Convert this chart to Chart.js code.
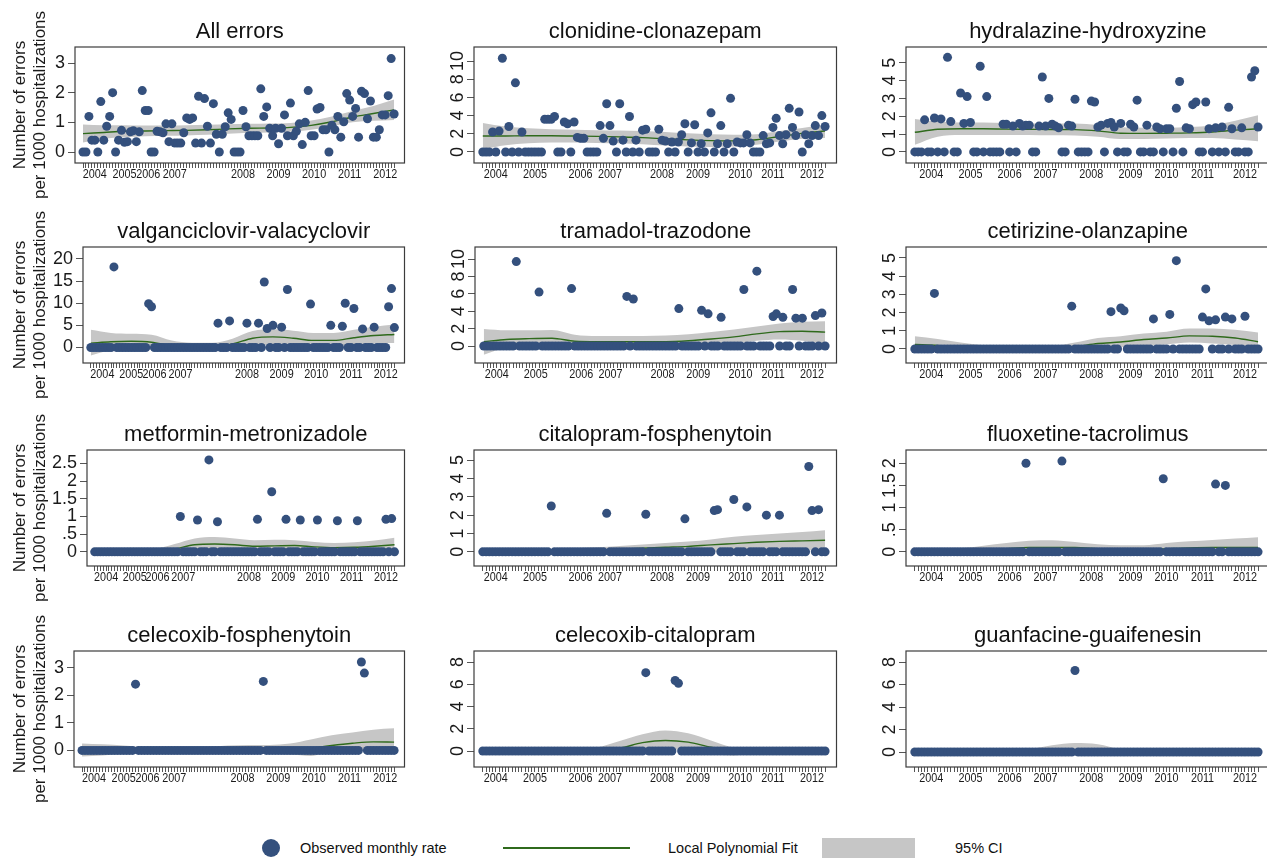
<!DOCTYPE html>
<html><head><meta charset="utf-8">
<script src="https://cdn.jsdelivr.net/npm/chart.js@4.4.1/dist/chart.umd.min.js"></script>
<style>
html,body{margin:0;padding:0;background:#fff;overflow:hidden;width:1267px;height:858px;position:relative;}
canvas{position:absolute;}
.lg{position:absolute;font-family:"Liberation Sans",Arial,sans-serif;font-size:14.5px;color:#111;line-height:17px;white-space:nowrap;}
</style></head><body>
<div class="lg" style="left:262px;top:839px;width:18px;height:18px;border-radius:50%;background:#34507d;"></div>
<div class="lg" style="left:300px;top:840px;">Observed monthly rate</div>
<div class="lg" style="left:503px;top:847px;width:127px;height:2px;background:#2f6a1c;"></div>
<div class="lg" style="left:668px;top:840px;">Local Polynomial Fit</div>
<div class="lg" style="left:822px;top:838px;width:93px;height:22px;background:#c6c6c6;"></div>
<div class="lg" style="left:955px;top:840px;">95% CI</div>
<script>
// ---------- DATA ----------
const titles = ['All errors','clonidine-clonazepam','hydralazine-hydroxyzine','valganciclovir-valacyclovir','tramadol-trazodone','cetirizine-olanzapine','metformin-metronizadole','citalopram-fosphenytoin','fluoxetine-tacrolimus','celecoxib-fosphenytoin','celecoxib-citalopram','guanfacine-guaifenesin'];
const yearLabels = ['2004','2005','2006','2007','2008','2009','2010','2011','2012'];
const yearTicksCol1 = [4,14,22,31,54,66,78,90,102];
const yearTicksCol2 = [4,16,30,39,55,66,79,89,101];
const yearTicksCol3 = [5,17,29,40,54,66,77,88,101];
const fitMonths = [0,7,14,21,28,35,42,49,56,63,70,77,84,91,98,105];

const allErrors = [0,0,1.2,0.4,0.4,0,1.7,0.4,0.87,1.2,
 2.0,0,0.4,0.73,0.33,0.35,0.68,0.72,0.35,0.68,
 2.07,1.4,1.4,0,0,0.7,0.68,0.65,0.95,0.35,
 0.95,0.3,0.3,0.3,0.65,1.15,1.1,1.15,0.3,1.88,
 0.3,1.8,0.87,0.3,1.63,0.6,0,0.6,0.85,1.32,
 1.1,0,0,0,1.4,0.85,0.55,0.55,0.55,0.55,
 2.13,1.2,1.52,0.8,0.55,0.8,0.28,0.8,1.25,0.55,
 1.65,0.55,0.7,0.95,0.25,1.0,2.07,0.55,0.55,1.45,
 1.5,0.75,0.75,0,0.9,0.75,1.2,0.5,1.02,1.97,
 1.75,1.2,1.47,0.5,2.05,1.97,1.12,1.72,0.5,0.5,
 0.75,1.25,1.25,1.9,3.15,1.28];
const allErrorsFit = [0.62,0.66,0.70,0.71,0.72,0.73,0.75,0.78,0.80,0.81,0.83,0.90,1.02,1.18,1.30,1.42];
const allErrorsLo = [0.32,0.45,0.50,0.53,0.55,0.56,0.58,0.62,0.65,0.66,0.68,0.75,0.86,1.0,1.05,1.08];
const allErrorsHi = [0.93,0.90,0.90,0.89,0.89,0.90,0.92,0.94,0.95,0.96,0.98,1.06,1.2,1.38,1.55,1.77];
const allErrorsYTicks = [0,1,2,3];
const allErrorsYRange = [-0.37,3.54];

const clonidineClonazepam = [0,0,0,2.2,0,2.3,10.3,0,2.8,0,
 7.6,0,2.2,0,0,0,0,0,0,3.6,
 3.6,3.6,3.9,0,0,3.3,3.1,0,3.3,1.6,
 1.5,1.5,0,0,0,0,2.9,1.5,5.3,2.9,
 1.2,0,5.3,1.3,0,3.9,0,1.3,0,2.4,
 2.5,0,0,0,2.5,1.3,1.2,0,1.1,0,
 1.1,1.9,3.1,0,1.0,3.0,0,0.9,0,2.1,
 4.3,0,0.9,2.9,0,0.9,5.9,0,1.1,1.0,
 1.0,1.9,1.0,0,0,0,1.8,0.9,1.0,2.7,
 3.7,1.8,0.9,1.9,4.8,2.7,1.8,4.4,0,1.9,
 0.9,1.8,2.9,1.8,4.0,2.8];
const clonidineClonazepamFit = [1.75,1.76,1.78,1.78,1.75,1.72,1.66,1.58,1.45,1.33,1.25,1.22,1.35,1.7,2.05,2.3];
const clonidineClonazepamLo = [0.3,0.75,0.95,1.05,1.05,1.0,0.95,0.85,0.7,0.6,0.55,0.6,0.8,1.15,1.45,1.55];
const clonidineClonazepamHi = [3.2,2.8,2.6,2.5,2.45,2.4,2.35,2.3,2.2,2.05,1.95,1.9,1.95,2.3,2.65,3.0];
const clonidineClonazepamYTicks = [0,2,4,6,8,10];
const clonidineClonazepamYRange = [-1.21,11.54];

const hydralazineHydroxyzine = [0,0,0,1.8,0,0,1.9,0,1.85,0,
 5.3,1.7,0,0,3.3,1.6,3.1,1.65,0,0,
 4.8,0,3.1,0,0,0,0,1.55,1.55,0,
 1.45,0,1.6,1.45,1.5,1.5,0,0,1.45,4.2,
 1.45,3.0,1.55,1.45,1.35,0,0,1.5,1.45,2.95,
 0,0,0,0,2.85,2.8,1.4,1.5,0,1.6,
 1.65,1.4,0,1.6,0,0,1.55,1.4,2.9,0,
 0,1.5,0,0,1.4,1.3,0,1.3,1.3,0,
 2.45,3.95,0,1.35,1.3,2.65,2.8,0,0,2.8,
 1.3,0,1.35,0,1.4,0,2.5,1.3,0,0,
 1.35,0,0,4.2,4.55,1.4];
const hydralazineHydroxyzineFit = [1.1,1.27,1.3,1.3,1.28,1.27,1.26,1.25,1.18,1.05,1.04,1.05,1.07,1.12,1.22,1.3];
const hydralazineHydroxyzineLo = [0.4,0.85,0.95,0.95,0.95,0.95,0.93,0.92,0.85,0.72,0.72,0.75,0.78,0.78,0.7,0.6];
const hydralazineHydroxyzineHi = [1.85,1.7,1.65,1.65,1.62,1.6,1.6,1.6,1.52,1.38,1.36,1.36,1.4,1.5,1.75,2.05];
const hydralazineHydroxyzineYTicks = [0,1,2,3,4,5];
const hydralazineHydroxyzineYRange = [-0.62,5.88];

const valganciclovirValacyclovir = [0,0,0,0,0,0,0,0,18.2,0,
 0,0,0,0,0,0,0,0,0,0,
 9.9,9.2,0,0,0,0,0,0,0,0,
 0,0,0,0,0,0,0,0,0,0,
 0,0,0,0,5.5,0,0,0,6.0,0,
 0,0,0,0,5.5,0,0,0,5.5,0,
 14.8,4.3,0,5.0,0,0,4.6,0,13.1,0,
 0,0,0,0,0,0,9.8,0,0,0,
 0,0,0,5.0,0,0,0,4.8,10.0,0,
 0,8.8,0,0,4.2,0,0,0,4.6,0,
 0,0,0,9.2,13.3,4.5];
const valganciclovirValacyclovirFit = [1.0,1.3,1.4,1.2,0.4,0.2,0.2,0.8,2.1,2.4,2.1,1.6,1.6,2.2,2.7,2.95];
const valganciclovirValacyclovirLo = [-1.8,-0.6,-0.4,-0.5,-0.7,-0.6,-0.6,-0.3,0.5,0.6,0.3,0.1,0.1,0.4,0.9,1.0];
const valganciclovirValacyclovirHi = [4.0,3.3,3.1,2.9,1.6,1.1,1.1,2.0,3.7,4.1,3.8,3.3,3.3,4.0,4.7,5.2];
const valganciclovirValacyclovirYTicks = [0,5,10,15,20];
const valganciclovirValacyclovirYRange = [-3.5,22.7];

const tramadolTrazodone = [0,0,0,0,0,0,0,0,0,0,
 9.7,0,0,0,0,0,0,6.2,0,0,
 0,0,0,0,0,0,0,6.6,0,0,
 0,0,0,0,0,0,0,0,0,0,
 0,0,0,0,5.7,0,5.4,0,0,0,
 0,0,0,0,0,0,0,0,0,0,
 4.3,0,0,0,0,0,0,4.1,0,3.7,
 0,0,0,3.3,0,0,0,0,0,0,
 6.5,0,0,0,8.6,0,0,0,0,3.4,
 3.7,0,3.3,0,0,6.5,3.2,0,3.2,0,
 0,0,3.5,0,3.8,0];
const tramadolTrazodoneFit = [0.5,0.75,0.85,0.9,0.55,0.5,0.5,0.5,0.5,0.6,0.8,1.05,1.4,1.65,1.7,1.6];
const tramadolTrazodoneLo = [-1.0,-0.2,-0.05,0.0,-0.2,-0.15,-0.15,-0.15,-0.15,-0.05,0.1,0.3,0.6,0.75,0.6,0.3];
const tramadolTrazodoneHi = [1.95,1.8,1.8,1.85,1.3,1.15,1.15,1.15,1.2,1.35,1.6,1.9,2.25,2.6,2.8,2.85];
const tramadolTrazodoneYTicks = [0,2,4,6,8,10];
const tramadolTrazodoneYRange = [-1.95,11.38];

const cetirizineOlanzapine = [0,0,0,0,0,0,3.05,0,0,0,
 0,0,0,0,0,0,0,0,0,0,
 0,0,0,0,0,0,0,0,0,0,
 0,0,0,0,0,0,0,0,0,0,
 0,0,0,0,0,0,0,0,2.35,0,
 0,0,0,0,0,0,0,0,0,0,
 2.05,0,0,2.25,2.1,0,0,0,0,0,
 0,0,0,1.65,0,0,0,0,1.9,0,
 4.85,0,0,0,0,0,0,0,1.75,3.3,
 1.55,0,1.6,0,0,1.75,0,1.65,0,0,
 0,1.8,0,0,0,0];
const cetirizineOlanzapineFit = [0.25,0.2,0.1,0.03,0.0,0.0,0.02,0.12,0.3,0.38,0.52,0.6,0.72,0.7,0.6,0.4];
const cetirizineOlanzapineLo = [-0.2,-0.15,-0.1,-0.08,-0.07,-0.07,-0.05,0.0,0.05,0.1,0.2,0.25,0.35,0.3,0.2,-0.1];
const cetirizineOlanzapineHi = [0.7,0.55,0.35,0.2,0.12,0.12,0.15,0.35,0.6,0.7,0.85,0.95,1.12,1.12,1.05,0.9];
const cetirizineOlanzapineYTicks = [0,1,2,3,4,5];
const cetirizineOlanzapineYRange = [-0.77,5.6];

const metforminMetronizadole = [0,0,0,0,0,0,0,0,0,0,
 0,0,0,0,0,0,0,0,0,0,
 0,0,0,0,0,0,0,0,0,0,
 1.0,0,0,0,0,0,0.9,0,0,0,
 2.6,0,0,0.85,0,0,0,0,0,0,
 0,0,0,0,0,0,0,0.92,0,0,
 0,0,1.7,0,0,0,0,0.92,0,0,
 0,0,0.9,0,0,0,0,0,0.9,0,
 0,0,0,0,0,0.88,0,0,0,0,
 0,0,0.88,0,0,0,0,0,0,0,
 0,0,0.92,0,0.94,0];
const metforminMetronizadoleFit = [0.0,0.0,0.0,0.0,0.08,0.2,0.22,0.2,0.16,0.17,0.18,0.14,0.12,0.13,0.16,0.2];
const metforminMetronizadoleLo = [-0.05,-0.05,-0.05,-0.05,-0.02,0.02,0.04,0.02,0.0,0.0,0.0,0.0,0.0,0.0,0.0,0.0];
const metforminMetronizadoleHi = [0.05,0.05,0.05,0.08,0.22,0.38,0.42,0.38,0.33,0.34,0.33,0.28,0.25,0.27,0.32,0.4];
const metforminMetronizadoleYTicks = [0,0.5,1,1.5,2,2.5];
const metforminMetronizadoleYRange = [-0.4,2.88];

const citalopramFosphenytoin = [0,0,0,0,0,0,0,0,0,0,
 0,0,0,0,0,0,0,0,0,0,
 0,2.5,0,0,0,0,0,0,0,0,
 0,0,0,0,0,0,0,0,2.1,0,
 0,0,0,0,0,0,0,0,0,0,
 2.05,0,0,0,0,0,0,0,0,0,
 0,0,1.8,0,0,0,0,0,0,0,
 0,2.25,2.3,0,0,0,0,2.85,0,0,
 0,2.45,0,0,0,0,0,2.0,0,0,
 0,2.0,0,0,0,0,0,0,0,0,
 4.65,2.25,0,2.3,0,0];
const citalopramFosphenytoinFit = [0.0,0.0,0.02,0.05,0.08,0.1,0.15,0.2,0.25,0.3,0.38,0.45,0.52,0.57,0.6,0.63];
const citalopramFosphenytoinLo = [-0.05,-0.05,-0.04,-0.03,-0.02,0.0,0.0,0.0,0.0,0.0,0.02,0.04,0.05,0.06,0.08,0.1];
const citalopramFosphenytoinHi = [0.05,0.06,0.1,0.15,0.2,0.25,0.32,0.4,0.48,0.56,0.68,0.82,0.92,1.0,1.08,1.18];
const citalopramFosphenytoinYTicks = [0,1,2,3,4,5];
const citalopramFosphenytoinYRange = [-0.77,5.55];

const fluoxetineTacrolimus = [0,0,0,0,0,0,0,0,0,0,
 0,0,0,0,0,0,0,0,0,0,
 0,0,0,0,0,0,0,0,0,0,
 0,0,0,0,2.0,0,0,0,0,0,
 0,0,0,0,0,2.05,0,0,0,0,
 0,0,0,0,0,0,0,0,0,0,
 0,0,0,0,0,0,0,0,0,0,
 0,0,0,0,0,0,1.65,0,0,0,
 0,0,0,0,0,0,0,0,0,0,
 0,0,1.53,0,0,1.5,0,0,0,0,
 0,0,0,0,0,0];
const fluoxetineTacrolimusFit = [0.0,0.01,0.02,0.04,0.07,0.1,0.1,0.1,0.07,0.05,0.05,0.07,0.09,0.1,0.1,0.1];
const fluoxetineTacrolimusLo = [-0.02,-0.02,-0.02,-0.01,0,0,0,0,0,0,0,0,0,0,0,0];
const fluoxetineTacrolimusHi = [0.02,0.04,0.08,0.14,0.2,0.25,0.26,0.22,0.17,0.15,0.15,0.2,0.24,0.27,0.3,0.33];
const fluoxetineTacrolimusYTicks = [0,0.5,1,1.5,2];
const fluoxetineTacrolimusYRange = [-0.32,2.3];

const celecoxibFosphenytoin = [0,0,0,0,0,0,0,0,0,0,
 0,0,0,0,0,0,0,0,2.4,0,
 0,0,0,0,0,0,0,0,0,0,
 0,0,0,0,0,0,0,0,0,0,
 0,0,0,0,0,0,0,0,0,0,
 0,0,0,0,0,0,0,0,0,0,
 0,2.5,0,0,0,0,0,0,0,0,
 0,0,0,0,0,0,0,0,0,0,
 0,0,0,0,0,0,0,0,0,0,
 0,0,0,0,3.2,2.8,0,0,0,0,
 0,0,0,0,0,0];
const celecoxibFosphenytoinFit = [0,0,0,0,0,0,0,0,0,0,0.02,0.08,0.18,0.26,0.31,0.3];
const celecoxibFosphenytoinLo = [-0.22,-0.18,-0.12,-0.08,-0.08,-0.08,-0.08,-0.08,-0.1,-0.12,-0.15,-0.2,0.0,0.0,0.0,-0.05];
const celecoxibFosphenytoinHi = [0.25,0.22,0.18,0.12,0.1,0.1,0.12,0.18,0.2,0.2,0.25,0.4,0.55,0.65,0.75,0.8];
const celecoxibFosphenytoinYTicks = [0,1,2,3];
const celecoxibFosphenytoinYRange = [-0.6,3.6];

const celecoxibCitalopram = [0,0,0,0,0,0,0,0,0,0,
 0,0,0,0,0,0,0,0,0,0,
 0,0,0,0,0,0,0,0,0,0,
 0,0,0,0,0,0,0,0,0,0,
 0,0,0,0,0,0,0,0,0,0,
 7.05,0,0,0,0,0,0,0,0,6.35,
 6.1,0,0,0,0,0,0,0,0,0,
 0,0,0,0,0,0,0,0,0,0,
 0,0,0,0,0,0,0,0,0,0,
 0,0,0,0,0,0,0,0,0,0,
 0,0,0,0,0,0];
const celecoxibCitalopramFit = [0,0,0,0,0,0.02,0.25,0.75,0.95,0.8,0.35,0.05,0,0,0,0];
const celecoxibCitalopramLo = [-0.05,-0.05,-0.05,-0.05,-0.05,-0.05,0.0,0.2,0.2,0.0,-0.3,-0.4,-0.1,-0.05,-0.05,-0.05];
const celecoxibCitalopramHi = [0.05,0.05,0.05,0.05,0.08,0.3,0.9,1.5,1.85,1.6,0.95,0.3,0.08,0.05,0.05,0.05];
const celecoxibCitalopramYTicks = [0,2,4,6,8];
const celecoxibCitalopramYRange = [-1.44,9.0];

const guanfacineGuaifenesin = [0,0,0,0,0,0,0,0,0,0,
 0,0,0,0,0,0,0,0,0,0,
 0,0,0,0,0,0,0,0,0,0,
 0,0,0,0,0,0,0,0,0,0,
 0,0,0,0,0,0,0,0,0,7.25,
 0,0,0,0,0,0,0,0,0,0,
 0,0,0,0,0,0,0,0,0,0,
 0,0,0,0,0,0,0,0,0,0,
 0,0,0,0,0,0,0,0,0,0,
 0,0,0,0,0,0,0,0,0,0,
 0,0,0,0,0,0];
const guanfacineGuaifenesinFit = [0,0,0,0,0,0.02,0.08,0.1,0.08,0.02,0,0,0,0,0,0];
const guanfacineGuaifenesinLo = [-0.05,-0.05,-0.05,-0.05,-0.05,-0.05,-0.08,-0.1,-0.08,-0.05,-0.05,-0.05,-0.05,-0.05,-0.05,-0.05];
const guanfacineGuaifenesinHi = [0.05,0.05,0.05,0.05,0.05,0.25,0.6,0.8,0.7,0.25,0.05,0.05,0.05,0.05,0.05,0.05];
const guanfacineGuaifenesinYTicks = [0,2,4,6,8];
const guanfacineGuaifenesinYRange = [-1.33,8.98];

// ---------- LAYOUT / STYLE ----------
const FONT = '"Liberation Sans", Arial, Helvetica, sans-serif';
const DOT = '#34507d', GREEN = '#2f6a1c', BAND = '#c6c6c6';
const colCanvasLeft = [0, 420, 845];
const colBoxRight = [408, 840, 1273];
const rowBoxTop = [47, 247, 450, 651];
const boxLeft = [75,474,906, 83,475,906, 87,474,906, 74,474,906];
const yearTicksByCol = [yearTicksCol1, yearTicksCol2, yearTicksCol3];
const BOX_H = 116, TOP_H = 47, XAX_H = 37;

const series = [
 [allErrors, allErrorsFit, allErrorsLo, allErrorsHi, allErrorsYTicks, allErrorsYRange],
 [clonidineClonazepam, clonidineClonazepamFit, clonidineClonazepamLo, clonidineClonazepamHi, clonidineClonazepamYTicks, clonidineClonazepamYRange],
 [hydralazineHydroxyzine, hydralazineHydroxyzineFit, hydralazineHydroxyzineLo, hydralazineHydroxyzineHi, hydralazineHydroxyzineYTicks, hydralazineHydroxyzineYRange],
 [valganciclovirValacyclovir, valganciclovirValacyclovirFit, valganciclovirValacyclovirLo, valganciclovirValacyclovirHi, valganciclovirValacyclovirYTicks, valganciclovirValacyclovirYRange],
 [tramadolTrazodone, tramadolTrazodoneFit, tramadolTrazodoneLo, tramadolTrazodoneHi, tramadolTrazodoneYTicks, tramadolTrazodoneYRange],
 [cetirizineOlanzapine, cetirizineOlanzapineFit, cetirizineOlanzapineLo, cetirizineOlanzapineHi, cetirizineOlanzapineYTicks, cetirizineOlanzapineYRange],
 [metforminMetronizadole, metforminMetronizadoleFit, metforminMetronizadoleLo, metforminMetronizadoleHi, metforminMetronizadoleYTicks, metforminMetronizadoleYRange],
 [citalopramFosphenytoin, citalopramFosphenytoinFit, citalopramFosphenytoinLo, citalopramFosphenytoinHi, citalopramFosphenytoinYTicks, citalopramFosphenytoinYRange],
 [fluoxetineTacrolimus, fluoxetineTacrolimusFit, fluoxetineTacrolimusLo, fluoxetineTacrolimusHi, fluoxetineTacrolimusYTicks, fluoxetineTacrolimusYRange],
 [celecoxibFosphenytoin, celecoxibFosphenytoinFit, celecoxibFosphenytoinLo, celecoxibFosphenytoinHi, celecoxibFosphenytoinYTicks, celecoxibFosphenytoinYRange],
 [celecoxibCitalopram, celecoxibCitalopramFit, celecoxibCitalopramLo, celecoxibCitalopramHi, celecoxibCitalopramYTicks, celecoxibCitalopramYRange],
 [guanfacineGuaifenesin, guanfacineGuaifenesinFit, guanfacineGuaifenesinLo, guanfacineGuaifenesinHi, guanfacineGuaifenesinYTicks, guanfacineGuaifenesinYRange]
];

function fmtY(v){ return String(v).replace(/^0\./, '.'); }

const boxPlugin = {
  id: 'panelBox',
  afterDraw(chart, args, opts) {
    const ctx = chart.ctx, a = chart.chartArea;
    ctx.save();
    ctx.strokeStyle = '#3c3c3c'; ctx.lineWidth = 1.2;
    ctx.strokeRect(a.left, a.top, a.right - a.left, a.bottom - a.top);
    ctx.fillStyle = '#1a1a1a';
    ctx.textAlign = 'center'; ctx.textBaseline = 'middle';
    // rotated y tick labels (columns 2 and 3)
    if (opts.rotated) {
      const ys = chart.scales.y;
      ctx.font = '18px ' + FONT;
      ys.ticks.forEach(t => {
        const y = ys.getPixelForValue(t.value);
        ctx.save(); ctx.translate(a.left - 16, y); ctx.rotate(-Math.PI / 2);
        ctx.fillText(fmtY(t.value), 0, 0); ctx.restore();
      });
    }
    // condensed year labels on the x axis
    const xs = chart.scales.x;
    ctx.font = '13.5px ' + FONT;
    opts.yearTicks.forEach((v, j) => {
      const x = xs.getPixelForValue(v);
      ctx.save(); ctx.translate(x, a.bottom + 11); ctx.scale(0.8, 1);
      ctx.fillText(yearLabels[j], 0, 0); ctx.restore();
    });
    ctx.restore();
  }
};

const monthTicks = [];
for (let m = 0; m <= 105; m++) monthTicks.push(m);

series.forEach((s, k) => {
  const [vals, fit, lo, hi, yTicks, yRange] = s;
  const r = Math.floor(k / 3), c = k % 3;
  const left = colCanvasLeft[c];
  const w = colBoxRight[c] - left + 1;
  const h = TOP_H + BOX_H + XAX_H;
  const cv = document.createElement('canvas');
  cv.width = w; cv.height = h;
  cv.style.left = left + 'px'; cv.style.top = (rowBoxTop[r] - TOP_H) + 'px';
  cv.style.width = w + 'px'; cv.style.height = h + 'px';
  document.body.appendChild(cv);
  const yw = boxLeft[k] - left;
  const yearTicks = yearTicksByCol[c];
  const pts = vals.map((v, i) => ({x: i, y: v}));
  const fitPts = fit.map((v, i) => ({x: fitMonths[i], y: v}));
  const loPts = lo.map((v, i) => ({x: fitMonths[i], y: v}));
  const hiPts = hi.map((v, i) => ({x: fitMonths[i], y: v}));
  new Chart(cv, {
    type: 'scatter',
    data: { datasets: [
      {type: 'scatter', data: pts, pointRadius: 4.5, pointBackgroundColor: DOT, pointBorderWidth: 0, backgroundColor: DOT, borderWidth: 0, order: 0},
      {type: 'line', showLine: true, data: fitPts, borderColor: GREEN, borderWidth: 1.4, pointRadius: 0, fill: false, cubicInterpolationMode: 'monotone', order: 1},
      {type: 'line', showLine: true, data: hiPts, borderColor: 'rgba(0,0,0,0)', borderWidth: 0, pointRadius: 0, fill: false, cubicInterpolationMode: 'monotone', order: 2},
      {type: 'line', showLine: true, data: loPts, borderColor: 'rgba(0,0,0,0)', borderWidth: 0, pointRadius: 0, fill: '-1', backgroundColor: BAND, cubicInterpolationMode: 'monotone', order: 2}
    ]},
    options: {
      responsive: false, animation: false, devicePixelRatio: 1, events: [],
      layout: {padding: {left: 0, right: 1, top: 0, bottom: 0}},
      plugins: {
        legend: {display: false}, tooltip: {enabled: false},
        title: {display: true, text: titles[k], fullSize: false, color: '#111',
          font: {family: FONT, size: 22, weight: 'normal', lineHeight: 1.2}, padding: {top: 19, bottom: 1.6}},
        panelBox: {rotated: c !== 0, yearTicks: yearTicks}
      },
      scales: {
        x: {
          type: 'linear', min: -2.7, max: 108.5,
          afterBuildTicks: sc => { sc.ticks = monthTicks.map(v => ({value: v})); },
          afterFit: sc => { sc.height = XAX_H; },
          ticks: {display: false, autoSkip: false, maxRotation: 0, minRotation: 0},
          grid: {drawOnChartArea: false, drawTicks: true, tickLength: 5, tickColor: '#555', tickWidth: 1},
          border: {display: false}
        },
        y: {
          type: 'linear', min: yRange[0], max: yRange[1],
          afterBuildTicks: sc => { sc.ticks = yTicks.map(v => ({value: v})); },
          afterFit: sc => { sc.width = yw; },
          ticks: {display: c === 0, autoSkip: false, padding: 3, color: '#1a1a1a', font: {family: FONT, size: 18}, callback: v => fmtY(v)},
          grid: {drawOnChartArea: false, drawTicks: true, tickLength: 7, tickColor: '#555', tickWidth: 1},
          border: {display: false},
          title: {display: c === 0, text: ['Number of errors', 'per 1000 hospitalizations'], color: '#1a1a1a',
            font: {family: FONT, size: 17, lineHeight: 1.18}, padding: {top: 10, bottom: 0}}
        }
      }
    },
    plugins: [boxPlugin]
  });
});
</script>
</body></html>
